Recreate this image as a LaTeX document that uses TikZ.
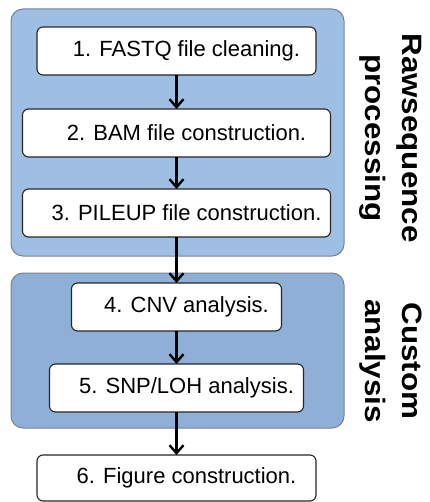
\documentclass[tikz,border=0pt]{standalone}
\usepackage{fontspec}
\setmainfont{Liberation Sans}
\newfontfamily\tagfont[FakeStretch=1.12]{Liberation Sans}
\usepackage{tikz}
\usetikzlibrary{calc,arrows.meta}

\definecolor{rawblue}{RGB}{158,190,228}
\definecolor{custblue}{RGB}{143,175,215}
\definecolor{grpedge}{RGB}{120,130,148}

\tikzset{
  stagebox/.style={draw=black!85, fill=white, rounded corners=6pt, line width=1.1pt,
    minimum height=48pt, font=\fontsize{22}{26}\selectfont,
    execute at begin node={\hspace*{20pt}}},
  groupbox/.style={draw=grpedge, line width=1pt, rounded corners=12pt},
  grouptag/.style={rotate=-90, align=center,
    font=\tagfont\bfseries\fontsize{28}{37}\selectfont},
  flow/.style={line width=2.4pt,
    -{Straight Barb[length=8pt,width=14pt,line width=2.4pt]}},
}

\begin{document}
\begin{tikzpicture}[inner sep=0pt,outer sep=0pt]
    \useasboundingbox (0pt,0pt) rectangle (429pt,-502pt);

    % group panels
    \draw[groupbox, fill=rawblue] (11pt,-9pt) rectangle (344pt,-256pt);
    \draw[groupbox, fill=custblue] (11pt,-273pt) rectangle (344pt,-428pt);

    % raw sequence processing
    \node[stagebox, anchor=north, minimum width=279pt] (fastq) at (176.5pt,-27pt)
    {1. FASTQ file cleaning.};
    \node[stagebox, anchor=north, minimum width=308pt] (bam)
    at ($(fastq.south) + (0pt,-34pt)$) {2. BAM file construction.};
    \node[stagebox, anchor=north, minimum width=308pt] (pileup)
    at ($(bam.south) + (0pt,-32pt)$) {3. PILEUP file construction.};

    % custom analysis
    \node[stagebox, anchor=north, minimum width=210pt] (cnv)
    at ($(pileup.south) + (0pt,-46pt)$) {4. CNV analysis.};
    \node[stagebox, anchor=north, minimum width=254pt] (snp)
    at ($(cnv.south) + (0pt,-33pt)$) {5. SNP/LOH analysis.};

    % output
    \node[stagebox, anchor=north, minimum width=279pt, minimum height=46pt] (figure)
    at ($(snp.south) + (0pt,-43pt)$) {6. Figure construction.};

    \foreach \from/\to in {fastq/bam, bam/pileup, pileup/cnv, cnv/snp, snp/figure}
        \draw[flow] (\from) -- (\to);

    % side labels
    \node[grouptag] (rawtag) at (391pt,-138pt) {Rawsequence\\processing};
    \node[grouptag] (custtag) at (391pt,-361pt) {Custom\\analysis};

\end{tikzpicture}
\end{document}
